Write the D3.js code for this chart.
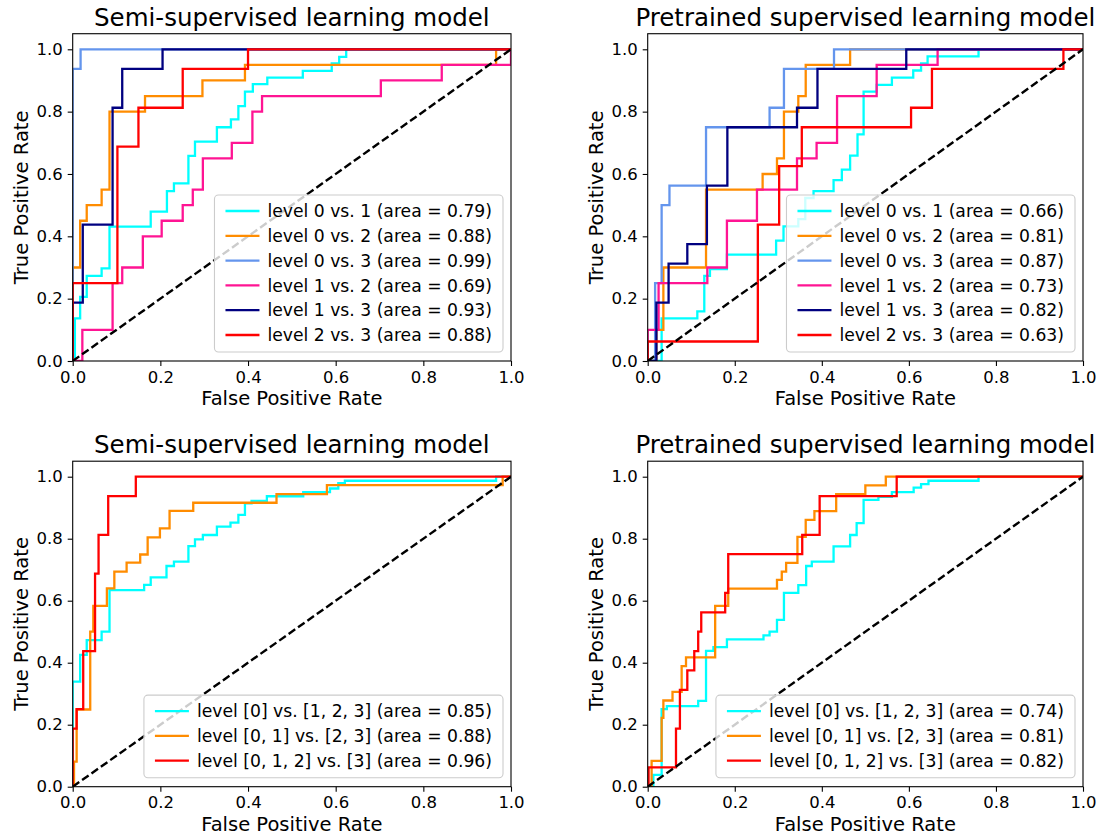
<!DOCTYPE html>
<html><head><meta charset="utf-8">
<script src="https://cdn.jsdelivr.net/npm/d3@7"></script>
<style>body{margin:0;background:#fff} text{font-family:"DejaVu Sans",sans-serif;fill:#000}</style>
</head><body><svg id="c" width="1101" height="839"></svg>
<script>
// ---------- data ----------
const tickValues = [0, 0.2, 0.4, 0.6, 0.8, 1.0];
const tickLabels = ["0.0", "0.2", "0.4", "0.6", "0.8", "1.0"];
const titles = ["Semi-supervised learning model", "Pretrained supervised learning model",
                "Semi-supervised learning model", "Pretrained supervised learning model"];
const xLabel = "False Positive Rate";
const yLabel = "True Positive Rate";

const labelsTop = ["level 0 vs. 1", "level 0 vs. 2", "level 0 vs. 3", "level 1 vs. 2", "level 1 vs. 3", "level 2 vs. 3"];
const labelsBottom = ["level [0] vs. [1, 2, 3]", "level [0, 1] vs. [2, 3]", "level [0, 1, 2] vs. [3]"];
const areasSemiTop = [0.79, 0.88, 0.99, 0.69, 0.93, 0.88];
const areasPreTop = [0.66, 0.81, 0.87, 0.73, 0.82, 0.63];
const areasSemiBottom = [0.85, 0.88, 0.96];
const areasPreBottom = [0.74, 0.81, 0.82];

// step points: (fpr where tpr jumps, tpr after the jump)
const semiTopFpr = [
  [0, 0.005, 0.017, 0.032, 0.066, 0.084, 0.178, 0.215, 0.231, 0.264, 0.279, 0.329, 0.361, 0.378, 0.393, 0.411, 0.444, 0.525, 0.591, 0.608, 0.624, 1],
  [0, 0, 0.017, 0.032, 0.066, 0.084, 0.165, 0.296, 0.393, 0.966, 1],
  [0, 0, 0.018, 1],
  [0, 0.022, 0.091, 0.113, 0.160, 0.203, 0.251, 0.274, 0.297, 0.363, 0.410, 0.432, 0.703, 0.842, 1],
  [0, 0, 0.023, 0.091, 0.113, 0.205, 1],
  [0, 0, 0.102, 0.150, 0.251, 0.40, 1]
];
const semiTopTpr = [
  [0, 0.137, 0.206, 0.273, 0.297, 0.431, 0.479, 0.545, 0.570, 0.658, 0.704, 0.75, 0.775, 0.818, 0.864, 0.888, 0.909, 0.931, 0.955, 0.976, 1, 1],
  [0, 0.3, 0.45, 0.5, 0.55, 0.8, 0.85, 0.9, 0.95, 1, 1],
  [0, 0.9375, 1, 1],
  [0, 0.1, 0.25, 0.3, 0.4, 0.45, 0.5, 0.55, 0.65, 0.7, 0.8, 0.85, 0.9, 0.95, 1],
  [0, 0.1875, 0.4375, 0.8125, 0.9375, 1, 1],
  [0, 0.25, 0.6875, 0.8125, 0.9375, 1, 1]
];
const preTopFpr = [
  [0, 0.032, 0.114, 0.13, 0.143, 0.182, 0.295, 0.312, 0.346, 0.362, 0.381, 0.427, 0.446, 0.465, 0.482, 0.496, 0.526, 0.561, 0.61, 0.628, 0.643, 0.76, 1],
  [0, 0.02, 0.036, 0.134, 0.264, 0.297, 0.313, 0.346, 0.363, 0.465, 1],
  [0, 0.017, 0.032, 0.05, 0.134, 0.28, 0.313, 0.428, 1],
  [0, 0, 0.025, 0.137, 0.182, 0.251, 0.343, 0.388, 0.435, 0.526, 0.666, 1],
  [0, 0.02, 0.048, 0.091, 0.136, 0.183, 0.343, 0.39, 0.594, 1],
  [0, 0, 0.253, 0.302, 0.354, 0.605, 0.653, 0.955, 1]
];
const preTopTpr = [
  [0, 0.137, 0.159, 0.273, 0.295, 0.341, 0.386, 0.432, 0.455, 0.523, 0.545, 0.58, 0.614, 0.659, 0.727, 0.864, 0.886, 0.909, 0.932, 0.955, 0.977, 1, 1],
  [0, 0.1, 0.3, 0.55, 0.6, 0.65, 0.8, 0.85, 0.95, 1, 1],
  [0, 0.25, 0.5, 0.5625, 0.75, 0.8125, 0.9375, 1, 1],
  [0, 0.1, 0.25, 0.3, 0.45, 0.55, 0.65, 0.7, 0.85, 0.95, 1, 1],
  [0, 0.1875, 0.3125, 0.375, 0.5625, 0.75, 0.8125, 0.9375, 1, 1],
  [0, 0.0625, 0.4375, 0.625, 0.75, 0.8125, 0.9375, 1, 1]
];
const semiBottomFpr = [
  [0, 0, 0.017, 0.032, 0.066, 0.084, 0.163, 0.178, 0.214, 0.231, 0.264, 0.279, 0.297, 0.329, 0.36, 0.378, 0.393, 0.408, 0.443, 0.526, 0.587, 0.606, 0.621, 0.966, 1],
  [0, 0.003, 0.009, 0.04, 0.047, 0.078, 0.095, 0.123, 0.154, 0.171, 0.199, 0.221, 0.275, 0.465, 0.58, 0.981, 1],
  [0, 0, 0.009, 0.024, 0.051, 0.059, 0.081, 0.144, 1]
];
const semiBottomTpr = [
  [0, 0.339, 0.425, 0.473, 0.5, 0.634, 0.651, 0.675, 0.712, 0.726, 0.776, 0.798, 0.812, 0.839, 0.852, 0.877, 0.914, 0.922, 0.937, 0.95, 0.962, 0.979, 0.987, 1, 1],
  [0, 0.081, 0.249, 0.5, 0.583, 0.64, 0.694, 0.723, 0.749, 0.804, 0.833, 0.89, 0.916, 0.944, 0.973, 1, 1],
  [0, 0.1875, 0.25, 0.4375, 0.6875, 0.8125, 0.9375, 1, 1]
];
const preBottomFpr = [
  [0, 0.013, 0.032, 0.044, 0.116, 0.134, 0.151, 0.182, 0.266, 0.28, 0.297, 0.313, 0.346, 0.364, 0.377, 0.427, 0.465, 0.48, 0.496, 0.53, 0.561, 0.611, 0.628, 0.645, 0.76, 1],
  [0, 0.009, 0.032, 0.036, 0.057, 0.078, 0.088, 0.155, 0.185, 0.297, 0.308, 0.318, 0.344, 0.363, 0.383, 0.433, 0.5, 0.547, 1],
  [0, 0.002, 0.065, 0.074, 0.091, 0.107, 0.116, 0.123, 0.178, 0.185, 0.355, 0.395, 0.572, 1]
];
const preBottomTpr = [
  [0, 0.038, 0.25, 0.26, 0.277, 0.438, 0.45, 0.475, 0.488, 0.5, 0.538, 0.625, 0.65, 0.712, 0.726, 0.775, 0.812, 0.85, 0.925, 0.935, 0.95, 0.965, 0.976, 0.987, 1, 1],
  [0, 0.083, 0.222, 0.278, 0.306, 0.389, 0.417, 0.583, 0.639, 0.667, 0.694, 0.722, 0.806, 0.861, 0.889, 0.944, 0.972, 1, 1],
  [0, 0.0625, 0.1875, 0.3125, 0.375, 0.4375, 0.5, 0.5625, 0.625, 0.75, 0.8125, 0.9375, 1, 1]
];
const diagonal = [0, 1];

// ---------- styles / layout ----------
const colorsTop = ["#00ffff", "#ff8c00", "#6495ed", "#ff1493", "#000080", "#ff0000"];
const colorsBottom = ["#00ffff", "#ff8c00", "#ff0000"];

const panels = [
  {L: 72.7, R: 511, Y0: 361, Y1: 49.3, title: titles[0], fpr: semiTopFpr, tpr: semiTopTpr, labels: labelsTop, areas: areasSemiTop, colors: colorsTop},
  {L: 647.7, R: 1083, Y0: 361, Y1: 49.3, title: titles[1], fpr: preTopFpr, tpr: preTopTpr, labels: labelsTop, areas: areasPreTop, colors: colorsTop},
  {L: 72.7, R: 511, Y0: 786.7, Y1: 476.7, title: titles[2], fpr: semiBottomFpr, tpr: semiBottomTpr, labels: labelsBottom, areas: areasSemiBottom, colors: colorsBottom},
  {L: 647.7, R: 1083, Y0: 786.7, Y1: 476.7, title: titles[3], fpr: preBottomFpr, tpr: preBottomTpr, labels: labelsBottom, areas: areasPreBottom, colors: colorsBottom}
];

const svg = d3.select("#c");
const tickFont = 16.5, legendFont = 17.2, labelFont = 19.5, titleFont = 24.5;

panels.forEach((p, pi) => {
  const x = d3.scaleLinear().domain([0, 1]).range([p.L, p.R]);
  const y = d3.scaleLinear().domain([0, 1]).range([p.Y0, p.Y1]);
  const yTop = y(1.05);
  const g = svg.append("g");

  const clipId = "clip" + pi;
  svg.append("clipPath").attr("id", clipId).append("rect")
    .attr("x", p.L).attr("y", yTop).attr("width", p.R - p.L).attr("height", p.Y0 - yTop);

  const plot = g.append("g").attr("clip-path", `url(#${clipId})`);
  const line = d3.line().x(d => x(d[0])).y(d => y(d[1])).curve(d3.curveStepAfter);
  p.fpr.forEach((fx, i) => {
    const pts = fx.map((v, j) => [v, p.tpr[i][j]]);
    plot.append("path").attr("d", line(pts)).attr("fill", "none")
      .attr("stroke", p.colors[i]).attr("stroke-width", 2.3).attr("stroke-linejoin", "miter");
  });
  plot.append("path").attr("d", d3.line().x(d => x(d)).y(d => y(d))(diagonal))
    .attr("fill", "none").attr("stroke", "#000").attr("stroke-width", 2.4).attr("stroke-dasharray", "8,3.5");

  // axes
  const ax = d3.axisBottom(x).tickValues(tickValues).tickFormat((d, i) => tickLabels[i]).tickSize(5).tickPadding(5);
  const ay = d3.axisLeft(y).tickValues(tickValues).tickFormat((d, i) => tickLabels[i]).tickSize(5).tickPadding(5);
  const gx = g.append("g").attr("transform", `translate(0,${p.Y0})`).call(ax);
  const gy = g.append("g").attr("transform", `translate(${p.L},0)`).call(ay);
  [gx, gy].forEach(a => {
    a.select(".domain").remove();
    a.selectAll("text").attr("font-size", tickFont).attr("font-family", "DejaVu Sans").attr("fill", "#000");
    a.selectAll("line").attr("stroke", "#000").attr("stroke-width", 1.1);
  });
  // spines
  g.append("rect").attr("x", p.L).attr("y", yTop).attr("width", p.R - p.L).attr("height", p.Y0 - yTop)
    .attr("fill", "none").attr("stroke", "#000").attr("stroke-width", 1.1);

  // labels
  g.append("text").attr("x", (p.L + p.R) / 2).attr("y", p.Y0 + 44).attr("text-anchor", "middle")
    .attr("font-size", labelFont).text(xLabel);
  g.append("text").attr("transform", `translate(${p.L - 45},${(p.Y0 + yTop) / 2}) rotate(-90)`)
    .attr("text-anchor", "middle").attr("font-size", labelFont).text(yLabel);
  g.append("text").attr("x", (p.L + p.R) / 2).attr("y", yTop - 8).attr("text-anchor", "middle")
    .attr("font-size", titleFont).text(p.title);

  // legend
  const n = p.labels.length;
  const rowH = 24.8;
  const lg = g.append("g");
  const texts = p.labels.map((l, i) => `${l} (area = ${p.areas[i].toFixed(2)})`);
  const tmp = lg.append("text").attr("font-size", legendFont);
  let maxW = 0;
  texts.forEach(t => { tmp.text(t); maxW = Math.max(maxW, tmp.node().getComputedTextLength()); });
  tmp.remove();
  const W = 53 + maxW + 11;
  const H = 16 + (n - 1) * rowH + 17;
  const lx = p.R - 8 - W, ly = p.Y0 - 9 - H;
  lg.append("rect").attr("x", lx).attr("y", ly).attr("width", W).attr("height", H).attr("rx", 4)
    .attr("fill", "#fff").attr("fill-opacity", 0.8).attr("stroke", "#cccccc").attr("stroke-width", 1.1);
  texts.forEach((t, i) => {
    const cy = ly + 16 + i * rowH;
    lg.append("line").attr("x1", lx + 11).attr("x2", lx + 45).attr("y1", cy).attr("y2", cy)
      .attr("stroke", p.colors[i]).attr("stroke-width", 2.3);
    lg.append("text").attr("x", lx + 53).attr("y", cy).attr("dy", "0.36em").attr("font-size", legendFont).text(t);
  });
});
</script></body></html>
